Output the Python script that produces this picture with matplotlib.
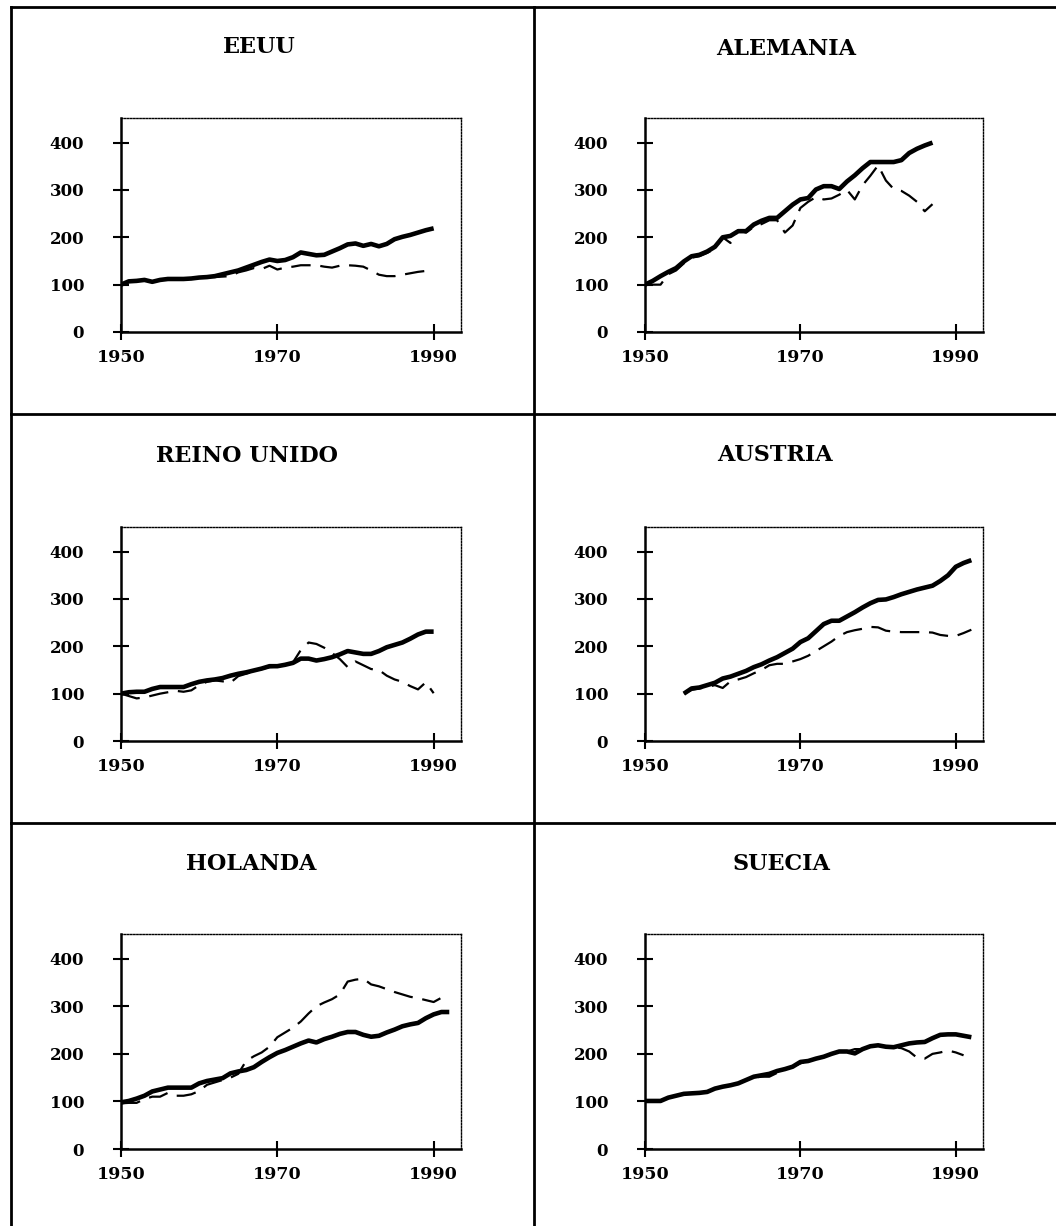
import numpy as np
import matplotlib
matplotlib.use("Agg")
import matplotlib.pyplot as plt
from matplotlib.lines import Line2D

plt.rcParams['font.family'] = ['DejaVu Serif']
plt.rcParams['lines.scale_dashes'] = False

# ---------------- data ----------------
titles = ["EEUU", "ALEMANIA", "REINO UNIDO", "AUSTRIA", "HOLANDA", "SUECIA"]

eeuu_start = 1950
eeuu_solid = [100, 107, 108, 110, 106, 110, 112, 112, 112, 113, 115, 116, 118, 122, 126, 130,
              136, 142, 148, 153, 150, 152, 158, 168, 165, 162, 163, 170, 177, 185, 187, 182,
              186, 181, 186, 196, 201, 205, 210, 215, 219]
eeuu_dashed = [100, 107, 108, 110, 106, 110, 112, 112, 112, 113, 115, 116, 116, 117, 118, 126,
               130, 135, 133, 140, 132, 136, 138, 141, 141, 141, 138, 136, 140, 141, 140, 138,
               130, 121, 118, 118, 121, 124, 127, 129, 131]

alemania_start = 1950
alemania_solid = [100, 108, 118, 127, 135, 149, 160, 163, 170, 180, 200, 203, 213, 213, 227, 235,
                  241, 241, 255, 269, 280, 283, 301, 308, 308, 302, 318, 331, 346, 359, 359, 359,
                  359, 363, 378, 387, 394, 400]
alemania_dashed = [100, 100, 100, 122, 130, 145, 157, 160, 167, 176, 200, 188, 215, 210, 222, 228,
                   236, 236, 210, 225, 262, 275, 285, 280, 282, 290, 300, 280, 310, 330, 352, 320,
                   302, 298, 288, 275, 255, 270]

reino_start = 1950
reino_solid = [100, 103, 104, 104, 110, 114, 114, 114, 114, 120, 125, 128, 130, 133, 138, 142,
               145, 149, 153, 158, 158, 161, 165, 174, 174, 170, 173, 177, 183, 190, 187, 184,
               184, 190, 198, 203, 208, 216, 225, 231, 231]
reino_dashed = [100, 95, 90, 92, 96, 100, 103, 106, 104, 107, 118, 125, 128, 126, 123, 137,
                142, 147, 152, 156, 157, 160, 166, 192, 208, 205, 197, 186, 173, 156, 168, 160,
                152, 150, 138, 130, 125, 116, 109, 124, 101]

austria_start = 1955
austria_solid = [100, 111, 113, 118, 123, 132, 136, 142, 148, 156, 162, 170, 177, 186, 195, 209,
                 217, 232, 247, 254, 254, 263, 272, 282, 291, 298, 299, 304, 310, 315, 320, 324,
                 328, 338, 350, 368, 376, 382]
austria_dashed = [100, 108, 111, 114, 118, 112, 126, 130, 135, 143, 150, 160, 163, 163, 168, 173,
                  180, 190, 200, 210, 222, 230, 234, 237, 241, 240, 233, 231, 230, 230, 230, 230,
                  229, 224, 222, 222, 228, 235]

holanda_start = 1950
holanda_solid = [98, 101, 106, 112, 121, 125, 129, 129, 129, 129, 138, 143, 146, 149, 159, 163,
                 166, 172, 183, 193, 202, 208, 215, 222, 228, 224, 231, 236, 242, 246, 246, 240,
                 236, 238, 245, 251, 258, 262, 265, 275, 283, 288, 288]
holanda_dashed = [96, 97, 97, 105, 110, 110, 118, 112, 112, 115, 122, 135, 140, 145, 150, 158,
                  185, 195, 203, 215, 235, 245, 255, 268, 285, 300, 308, 315, 325, 352, 356, 358,
                  346, 342, 336, 330, 325, 320, 317, 313, 309, 318, 318]

suecia_start = 1950
suecia_solid = [101, 101, 101, 108, 112, 116, 117, 118, 120, 127, 131, 134, 138, 145, 152, 155,
                158, 164, 168, 173, 183, 185, 190, 194, 200, 205, 205, 201, 210, 216, 218, 215,
                214, 218, 222, 224, 225, 233, 240, 241, 241, 238, 235]
suecia_dashed = [101, 101, 101, 108, 112, 116, 117, 118, 120, 127, 131, 134, 138, 145, 150, 152,
                 152, 160, 168, 173, 180, 185, 190, 194, 200, 205, 205, 210, 210, 216, 218, 215,
                 214, 212, 205, 192, 190, 200, 203, 207, 203, 197]

x_ticks = [1950, 1970, 1990]
y_ticks = [0, 100, 200, 300, 400]

series = [
    (eeuu_start, eeuu_solid, eeuu_dashed),
    (alemania_start, alemania_solid, alemania_dashed),
    (reino_start, reino_solid, reino_dashed),
    (austria_start, austria_solid, austria_dashed),
    (holanda_start, holanda_solid, holanda_dashed),
    (suecia_start, suecia_solid, suecia_dashed),
]

# ---------------- layout (pixels) ----------------
W, H = 1056, 1226
fig = plt.figure(figsize=(W / 100, H / 100), dpi=100)
fig.patch.set_facecolor("white")

# axes boxes: (left, top, right, bottom) in pixels
boxes = [
    (121, 118, 461, 332), (645, 118, 983, 332),
    (121, 527, 461, 741), (645, 527, 983, 741),
    (121, 934, 461, 1149), (645, 934, 983, 1149),
]
# title anchors (center x, baseline y) in pixels
title_pos = [(259, 53), (786, 55), (247, 462), (775, 461), (251, 870), (781, 870)]


def px(x, y):
    return x / W, 1 - y / H


for i, ((l, t, r, b), (start, solid, dashed)) in enumerate(zip(boxes, series)):
    ax = fig.add_axes([l / W, 1 - b / H, (r - l) / W, (b - t) / H])
    ys = np.arange(start, start + len(solid))
    yd = np.arange(start, start + len(dashed))
    ax.plot(ys, solid, color="black", lw=3.3, solid_joinstyle="round",
            solid_capstyle="butt", zorder=3)
    ax.plot(yd, dashed, color="black", lw=1.6, dashes=(14, 7), zorder=4)
    ax.set_xlim(1950, 1993.5)
    ax.set_ylim(0, 452)
    ax.set_xticks(x_ticks)
    ax.set_yticks(y_ticks)
    ax.set_xticklabels([str(v) for v in x_ticks], fontsize=12.5, fontweight="bold")
    ax.set_yticklabels([str(v) for v in y_ticks], fontsize=12, fontweight="bold")
    ax.tick_params(axis="both", direction="inout", length=11, width=1.5, color="black")
    ax.tick_params(axis="y", pad=21)
    ax.tick_params(axis="x", pad=6.5)
    for s in ["left", "bottom"]:
        ax.spines[s].set_linewidth(1.8)
        ax.spines[s].set_color("black")
        ax.spines[s].set_zorder(5)
    for s in ["top", "right"]:
        ax.spines[s].set_linewidth(1.0)
        ax.spines[s].set_linestyle((0, (1, 1.2)))
        ax.spines[s].set_color("black")
    ax.set_facecolor("none")

    cx, by = title_pos[i]
    fx, fy = px(cx, by)
    fig.text(fx, fy, titles[i], ha="center", va="baseline", fontsize=16,
             fontweight="bold")

# table grid lines
grid_lw = 2.0
for yline in [7, 414, 823]:
    x0, y0 = px(11, yline)
    x1, _ = px(W, yline)
    fig.add_artist(Line2D([x0, x1], [y0, y0], color="black", lw=grid_lw,
                          transform=fig.transFigure))
for xline in [11, 534]:
    x0, y0 = px(xline, 7)
    _, y1 = px(xline, H)
    fig.add_artist(Line2D([x0, x0], [y0, y1], color="black", lw=grid_lw,
                          transform=fig.transFigure))

fig.savefig("out.png", dpi=100, facecolor="white")
